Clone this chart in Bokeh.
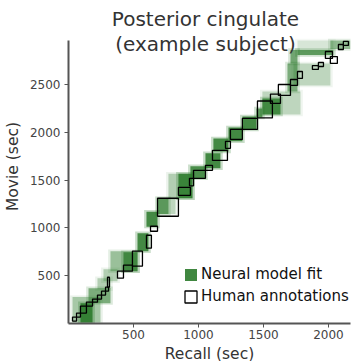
from bokeh.plotting import figure
from bokeh.models import Range1d, Label, Legend, LegendItem, ColumnDataSource, FixedTicker
from bokeh.embed import file_html
from bokeh.resources import INLINE

# Human annotations: event boxes (recall seconds x movie seconds)
human_recall_start = [31, 62, 92, 138, 185, 223, 254, 285, 300, 377, 423, 492, 600, 631, 685, 846, 931, 962, 1054, 1108, 1208, 1246, 1338, 1454, 1554, 1615, 1708, 1762, 1877, 1923, 1977, 2015, 2077, 2115]
human_recall_end   = [62, 92, 138, 185, 223, 254, 285, 308, 315, 423, 492, 569, 638, 685, 846, 938, 962, 1054, 1108, 1223, 1246, 1338, 1454, 1569, 1631, 1708, 1762, 1800, 1923, 1962, 2031, 2069, 2115, 2154]
human_movie_start  = [25, 67, 109, 182, 223, 255, 297, 338, 380, 474, 547, 600, 788, 965, 1122, 1341, 1440, 1518, 1602, 1706, 1832, 1925, 2030, 2150, 2302, 2385, 2490, 2563, 2657, 2688, 2772, 2720, 2866, 2908]
human_movie_end    = [67, 109, 182, 223, 255, 297, 338, 380, 484, 547, 610, 756, 923, 1017, 1310, 1424, 1518, 1602, 1654, 1811, 1905, 2030, 2145, 2327, 2400, 2500, 2552, 2636, 2698, 2730, 2845, 2792, 2918, 2950]

# Neural model fit: blocks with fit strength
neural_recall_start = [31, 92, 154, 223, 269, 323, 423, 531, 600, 685, 685, 769, 846, 938, 1054, 1115, 1231, 1338, 1446, 1492, 1492, 1685, 1731, 1708, 1762, 1762, 2015]
neural_recall_end   = [246, 185, 323, 323, 377, 531, 531, 615, 685, 769, 823, 954, 954, 1054, 1169, 1231, 1338, 1446, 1492, 1785, 1631, 1762, 2015, 1762, 2038, 2038, 2169]
neural_movie_start  = [10, 10, 213, 359, 442, 547, 547, 756, 1013, 1144, 1144, 1310, 1310, 1518, 1623, 1800, 1905, 2030, 2155, 2187, 2187, 2427, 2490, 2720, 2809, 2860, 2870]
neural_movie_end    = [276, 213, 370, 474, 568, 756, 746, 944, 1170, 1310, 1310, 1567, 1567, 1644, 1780, 1936, 2051, 2166, 2249, 2427, 2354, 2720, 2720, 2860, 2860, 2960, 2960]
neural_strength     = [0.35, 0.9, 0.55, 0.3, 0.3, 0.4, 0.75, 0.85, 0.85, 0.6, 0.25, 0.3, 0.85, 0.8, 0.85, 0.85, 0.85, 0.85, 0.7, 0.25, 0.8, 0.55, 0.25, 0.6, 0.7, 0.15, 0.45]

x_ticks = [500, 1000, 1500, 2000]
y_ticks = [500, 1000, 1500, 2000, 2500]
movie_max = 2960
recall_max = 2170

GREEN = "#2b7a2b"
FONT = "DejaVu Sans"
PX_PER_SEC_Y = 283 / movie_max
FRAME_H = 314
BLUR = 18  # soft edge width in seconds

p = figure(frame_width=282, frame_height=FRAME_H,
           min_border_left=60, min_border_right=3, min_border_top=9, min_border_bottom=36,
           x_range=Range1d(0, recall_max), y_range=Range1d(0, FRAME_H / PX_PER_SEC_Y),
           output_backend="svg", toolbar_location=None)
p.outline_line_color = None
p.xgrid.visible = False
p.ygrid.visible = False
p.background_fill_color = "white"
p.border_fill_color = "white"

nsrc = ColumnDataSource(dict(left=neural_recall_start, right=neural_recall_end,
                             bottom=neural_movie_start, top=neural_movie_end,
                             alpha=neural_strength))
# soft halo around each block, then the block itself
halo = ColumnDataSource(dict(left=[v - BLUR for v in neural_recall_start],
                             right=[v + BLUR for v in neural_recall_end],
                             bottom=[v - BLUR for v in neural_movie_start],
                             top=[v + BLUR for v in neural_movie_end],
                             alpha=[a * 0.3 for a in neural_strength]))
p.quad(left="left", right="right", bottom="bottom", top="top", source=halo,
       fill_color=GREEN, fill_alpha="alpha", line_color=None)
green_r = p.quad(left="left", right="right", bottom="bottom", top="top", source=nsrc,
                 fill_color=GREEN, fill_alpha="alpha", line_color=None)

hsrc = ColumnDataSource(dict(left=human_recall_start, right=human_recall_end,
                             bottom=human_movie_start, top=human_movie_end))
human_r = p.quad(left="left", right="right", bottom="bottom", top="top", source=hsrc,
                 fill_color=None, line_color="black", line_width=1.3)

strongest = neural_strength.index(max(neural_strength))
legend = Legend(items=[LegendItem(label="Neural model fit", renderers=[green_r], index=strongest),
                       LegendItem(label="Human annotations", renderers=[human_r], index=0)],
                location=(115, 18), padding=0, margin=0, spacing=4,
                glyph_width=15, glyph_height=15, label_standoff=3,
                label_text_font=FONT, label_text_font_size="15px", label_text_color="#111111",
                label_height=15, background_fill_alpha=0, border_line_alpha=0)
p.add_layout(legend, "center")

for ax in (p.xaxis[0], p.yaxis[0]):
    ax.axis_line_color = "#555555"
    ax.axis_line_width = 2
    ax.major_tick_line_color = "#555555"
    ax.major_tick_out = 4
    ax.major_tick_in = 0
    ax.minor_tick_line_color = None
    ax.major_label_text_font = FONT
    ax.major_label_text_font_size = "12px"
    ax.major_label_text_color = "#444444"
    ax.axis_label_text_font = FONT
    ax.axis_label_text_font_size = "15.5px"
    ax.axis_label_text_font_style = "normal"
    ax.axis_label_text_color = "#333333"

p.yaxis.bounds = (0, movie_max)
p.xaxis.ticker = FixedTicker(ticks=x_ticks)
p.yaxis.ticker = FixedTicker(ticks=y_ticks)
p.xaxis.axis_label = "Recall (sec)"
p.yaxis.axis_label = "Movie (sec)"
p.xaxis.major_label_standoff = 2
p.yaxis.major_label_standoff = 4
p.xaxis.axis_label_standoff = 3
p.yaxis.axis_label_standoff = 5

p.add_layout(Label(x=137, y=305, x_units="screen", y_units="screen", text="Posterior cingulate",
                   text_align="center", text_baseline="middle", text_font=FONT,
                   text_font_size="20px", text_color="#333333"))
p.add_layout(Label(x=137, y=280, x_units="screen", y_units="screen", text="(example subject)",
                   text_align="center", text_baseline="middle", text_font=FONT,
                   text_font_size="20px", text_color="#333333"))

open("out.html", "w").write(file_html(p, INLINE))
